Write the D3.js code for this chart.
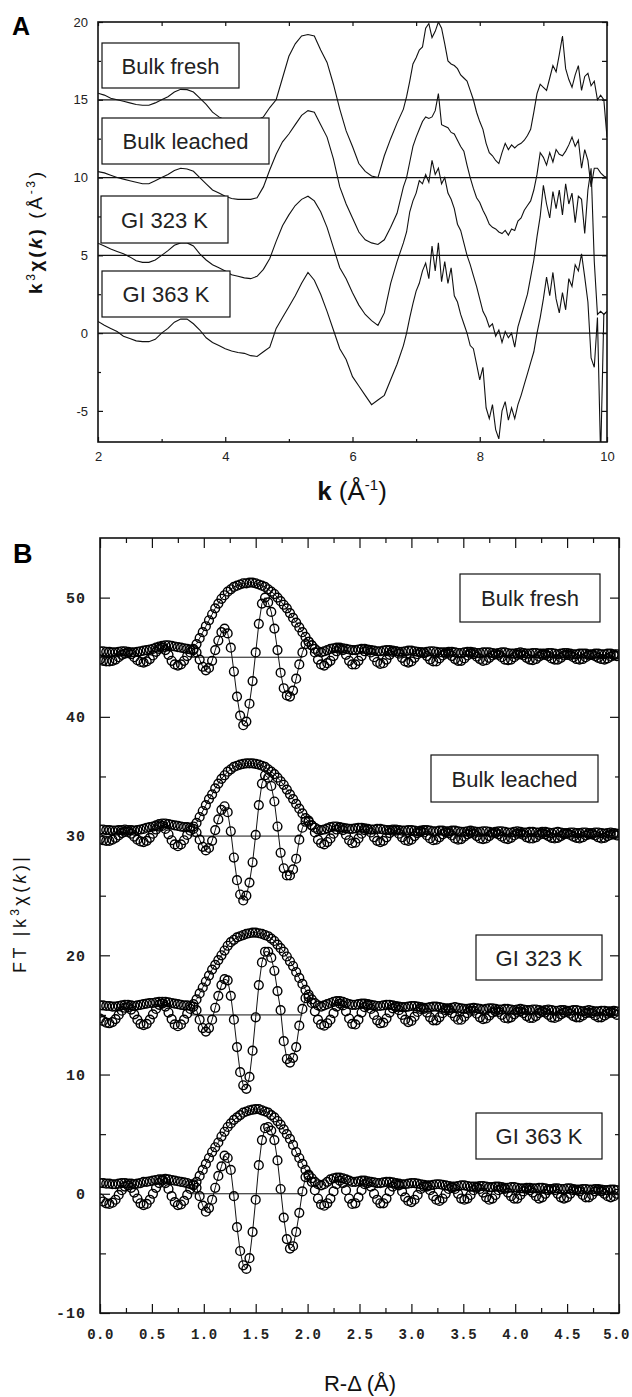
<!DOCTYPE html>
<html>
<head>
<meta charset="utf-8">
<script src="https://cdn.jsdelivr.net/npm/d3@7"></script>
<style>
  html, body { margin: 0; padding: 0; background: #fff; }
  svg { display: block; }
</style>
</head>
<body>
<svg id="chart" width="632" height="1397"></svg>
<script>
// ---------------- panel A: k^3 chi(k) ----------------
const kGrid = [
  2, 2.1, 2.2, 2.3, 2.4, 2.5, 2.6, 2.7, 2.8, 2.9,
  3, 3.1, 3.2, 3.3, 3.4, 3.5, 3.6, 3.7, 3.8, 3.9,
  4, 4.1, 4.2, 4.3, 4.4, 4.5, 4.6, 4.7, 4.8, 4.9,
  5, 5.1, 5.2, 5.3, 5.4, 5.5, 5.6, 5.7, 5.8, 5.9,
  6, 6.1, 6.2, 6.3, 6.4, 6.5, 6.6, 6.7, 6.8,
  6.85, 6.9, 6.95, 7, 7.05, 7.1, 7.15, 7.2, 7.25, 7.3,
  7.35, 7.4, 7.45, 7.5, 7.55, 7.6, 7.65, 7.7, 7.75, 7.8,
  7.85, 7.9, 7.95,
  8, 8.05, 8.1, 8.15, 8.2, 8.25, 8.3, 8.35, 8.4, 8.45,
  8.5, 8.55, 8.6, 8.65, 8.7, 8.75, 8.8, 8.85, 8.9, 8.95,
  9, 9.05, 9.1, 9.15, 9.2, 9.25, 9.3, 9.35, 9.4, 9.45,
  9.5, 9.55, 9.6, 9.65, 9.7, 9.75, 9.8, 9.85, 9.9, 9.95,
  10
];

const namesA = ["Bulk fresh", "Bulk leached", "GI 323 K", "GI 363 K"];
const offsetsA = [15, 10, 5, 0];

const chiBulkFresh = [
  0.42, 0.3, 0.1, 0.0, -0.1, -0.2, -0.3, -0.35, -0.35, -0.2,
  0.0, 0.2, 0.5, 0.67, 0.65, 0.5, 0.1, -0.3, -0.8, -1.1,
  -1.3, -1.4, -1.45, -1.5, -1.45, -1.3, -1.1, -0.5, 0.0, 1.4,
  2.8, 3.6, 4.1, 4.2, 4.1, 3.2, 2.4, 1.0, -0.6, -2.0,
  -3.0, -4.1, -4.6, -4.9, -5.0, -3.6, -2.5, -1.5, -0.6,
  0.2, 1.2, 2.3, 2.7, 3.2, 3.4, 4.6, 4.9, 4.0, 4.4,
  5.0, 4.6, 3.6, 2.5, 2.3, 2.2, 2.0, 1.6, 1.4, 1.2,
  0.6, 0.0, -0.8,
  -1.4, -1.9, -2.8, -3.4, -3.6, -3.9, -4.1, -3.4, -2.8, -3.2,
  -2.9, -3.1, -2.9, -2.8, -2.6, -2.3, -1.9, -0.8, 0.4, 1.0,
  0.8, 0.6, 1.4, 2.2, 1.8, 2.9, 4.1, 2.0, 1.3, 0.8,
  1.6, 2.2, 0.6, 1.5, 1.7, 0.9, 1.2, 0.0, 0.3, 0.0,
  -2.4
];
const chiBulkLeached = [
  0.38, 0.3, 0.15, 0.0, -0.1, -0.2, -0.3, -0.4, -0.4, -0.2,
  0.0, 0.2, 0.45, 0.6, 0.55, 0.4, 0.0, -0.4, -0.8, -1.0,
  -1.2, -1.35, -1.4, -1.4, -1.4, -1.3, -0.6, 0.5, 1.5, 2.3,
  2.8, 3.4, 4.0, 4.3, 4.2, 3.4, 2.6, 1.2, -0.6, -1.7,
  -2.6, -3.5, -4.0, -4.2, -4.3, -4.0, -3.2, -2.3, -0.6,
  0.0, 1.0, 2.0, 2.6, 3.1, 3.6, 3.9, 3.8, 3.9, 4.3,
  5.4, 3.4, 3.3, 3.2, 2.9, 2.8, 2.4, 2.0, 1.7, 0.8,
  0.0, -0.7, -1.3,
  -1.6, -2.1, -2.5, -3.0, -3.2, -3.3, -3.5, -3.6, -3.4, -3.7,
  -3.3, -3.4, -2.8, -2.6, -2.1, -1.8, -1.5, -0.8, 0.2, 1.6,
  1.3, 0.8, 1.6, 1.0, 1.8, 1.5, 1.4, 1.7, 2.1, 2.6,
  2.0, 2.4, 0.6, 1.8, 1.1, -0.6, 0.6, 0.6, 0.3, 0.1,
  0.0
];
const chiGI323 = [
  0.78, 0.6, 0.4, 0.25, 0.1, -0.1, -0.35, -0.45, -0.45, -0.3,
  0.0, 0.3, 0.65, 0.8, 0.8, 0.6, 0.1, -0.3, -0.6, -0.8,
  -1.0, -1.25, -1.35, -1.45, -1.5, -1.35, -0.9, -0.2, 0.9, 1.9,
  2.6, 3.2, 3.6, 3.8, 3.5, 2.8, 1.8, 0.5, -0.8, -1.5,
  -2.4, -3.2, -3.8, -4.2, -4.5, -3.7, -1.8, -0.4, 0.8,
  1.5, 2.8, 3.5, 4.0, 4.8, 4.6, 5.2, 4.7, 6.1, 5.2,
  5.6, 4.6, 5.0, 4.0, 3.6, 3.0, 2.0, 1.6, 0.8, 0.0,
  -0.6, -1.3, -2.0,
  -2.8, -3.6, -4.0, -4.6, -4.4, -5.2, -4.8, -5.6, -4.9, -5.3,
  -5.0, -5.9, -4.6, -3.9, -3.2, -2.5, -1.4, -0.3, 1.2, 2.5,
  4.5, 3.3, 2.4, 4.1, 3.0, 4.2, 2.6, 4.6, 3.3, 4.0,
  2.1, 3.8, 3.6, 1.4, 4.2, 5.6, -0.4, -3.8, -3.6, -3.8,
  -3.6
];
const chiGI363 = [
  0.75, 0.5, 0.3, 0.1, -0.2, -0.35, -0.5, -0.55, -0.55, -0.4,
  0.0, 0.3, 0.7, 0.9, 0.9, 0.6, 0.2, -0.3, -0.6, -0.8,
  -1.0, -1.15, -1.25, -1.3, -1.45, -1.5, -1.2, -0.9, 0.3, 1.0,
  1.7, 2.4, 3.2, 3.9, 3.4, 2.5, 1.4, 0.2, -1.0, -1.7,
  -2.8, -3.4, -4.0, -4.6, -4.3, -4.0, -3.0, -2.0, -0.8,
  0.0, 1.0, 1.9, 2.7, 3.2, 4.0, 4.5, 3.5, 5.6, 4.0,
  5.8, 3.3, 4.6, 3.2, 4.2, 2.4, 2.0, 1.2, 0.6, 0.0,
  -0.8, -1.0, -2.0,
  -3.0, -2.2, -4.8, -5.5, -4.6, -6.2, -6.8, -5.0, -4.4, -5.6,
  -4.8, -5.5, -4.6, -4.0, -3.3, -2.6, -1.9, -1.2, 0.0, 1.0,
  2.2, 3.6, 2.4, 3.9, 2.2, 1.3, 2.6, 1.5, 3.5, 3.0,
  4.4, 4.0, 5.1, 3.6, 2.0, -1.6, -2.2, 1.0, -8.0, 1.2,
  1.4
];
const seriesA = [chiBulkFresh, chiBulkLeached, chiGI323, chiGI363];

const yTicksA = [-5, 0, 5, 10, 15, 20];
const yMinorA = [-2.5, 2.5, 7.5, 12.5, 17.5];
const xTicksA = [2, 4, 6, 8, 10];
const xMinorA = [3, 5, 7, 9];

// ---------------- panel B: FT magnitude / imaginary part ----------------
const rGrid = [
  0, 0.03, 0.06, 0.09, 0.12, 0.15, 0.18, 0.21, 0.24, 0.27,
  0.3, 0.33, 0.36, 0.39, 0.42, 0.45, 0.48, 0.51, 0.54, 0.57,
  0.6, 0.63, 0.66, 0.69, 0.72, 0.75, 0.78, 0.81, 0.84, 0.87,
  0.9, 0.93, 0.96, 0.99, 1.02, 1.05, 1.08, 1.11, 1.14, 1.17,
  1.2, 1.23, 1.26, 1.29, 1.32, 1.35, 1.38, 1.41, 1.44, 1.47,
  1.5, 1.53, 1.56, 1.59, 1.62, 1.65, 1.68, 1.71, 1.74, 1.77,
  1.8, 1.83, 1.86, 1.89, 1.92, 1.95, 1.98, 2.01, 2.04, 2.07,
  2.1, 2.13, 2.16, 2.19, 2.22, 2.25, 2.28, 2.31, 2.34, 2.37,
  2.4, 2.43, 2.46, 2.49, 2.52, 2.55, 2.58, 2.61, 2.64, 2.67,
  2.7, 2.73, 2.76, 2.79, 2.82, 2.85, 2.88, 2.91, 2.94, 2.97,
  3, 3.03, 3.06, 3.09, 3.12, 3.15, 3.18, 3.21, 3.24, 3.27,
  3.3, 3.33, 3.36, 3.39, 3.42, 3.45, 3.48, 3.51, 3.54, 3.57,
  3.6, 3.63, 3.66, 3.69, 3.72, 3.75, 3.78, 3.81, 3.84, 3.87,
  3.9, 3.93, 3.96, 3.99, 4.02, 4.05, 4.08, 4.11, 4.14, 4.17,
  4.2, 4.23, 4.26, 4.29, 4.32, 4.35, 4.38, 4.41, 4.44, 4.47,
  4.5, 4.53, 4.56, 4.59, 4.62, 4.65, 4.68, 4.71, 4.74, 4.77,
  4.8, 4.83, 4.86, 4.89, 4.92, 4.95, 4.98
];

const namesB = ["Bulk fresh", "Bulk leached", "GI 323 K", "GI 363 K"];
const offsetsB = [45, 30, 15, 0];

const magBulkFresh = [
  0.5, 0.5, 0.45, 0.45, 0.4, 0.4, 0.45, 0.5, 0.5, 0.45,
  0.4, 0.4, 0.45, 0.5, 0.55, 0.6, 0.65, 0.7, 0.8, 0.9,
  0.95, 1.0, 1.0, 0.95, 0.9, 0.85, 0.8, 0.75, 0.7, 0.65,
  0.7, 1.1, 1.6, 2.1, 2.6, 3.1, 3.6, 4.1, 4.5, 4.9,
  5.2, 5.5, 5.7, 5.9, 6.0, 6.1, 6.2, 6.2, 6.25, 6.25,
  6.2, 6.1, 6.0, 5.9, 5.7, 5.5, 5.3, 5.0, 4.7, 4.4,
  4.1, 3.7, 3.3, 2.9, 2.5, 2.1, 1.7, 1.3, 1.0, 0.7,
  0.5, 0.4, 0.5, 0.6, 0.7, 0.75, 0.8, 0.8, 0.75, 0.7,
  0.65, 0.6, 0.6, 0.65, 0.7, 0.7, 0.65, 0.6, 0.55, 0.5,
  0.5, 0.55, 0.6, 0.6, 0.55, 0.5, 0.45, 0.45, 0.5, 0.55,
  0.55, 0.5, 0.45, 0.4, 0.4, 0.45, 0.5, 0.5, 0.45, 0.4,
  0.4, 0.4, 0.45, 0.45, 0.4, 0.35, 0.35, 0.4, 0.45, 0.45,
  0.4, 0.35, 0.35, 0.4, 0.4, 0.4, 0.35, 0.3, 0.35, 0.4,
  0.4, 0.35, 0.3, 0.3, 0.35, 0.4, 0.35, 0.3, 0.3, 0.35,
  0.35, 0.3, 0.3, 0.3, 0.35, 0.35, 0.3, 0.25, 0.3, 0.35,
  0.35, 0.3, 0.25, 0.25, 0.3, 0.3, 0.3, 0.25, 0.25, 0.3,
  0.3, 0.25, 0.25, 0.3, 0.3, 0.25, 0.25
];
const imBulkFresh = [
  -0.2, -0.3, -0.35, -0.35, -0.3, -0.2, 0.0, 0.2, 0.3, 0.35,
  0.25, 0.0, -0.25, -0.4, -0.45, -0.35, -0.15, 0.15, 0.45, 0.7,
  0.8, 0.6, 0.2, -0.3, -0.6, -0.7, -0.6, -0.3, 0.1, 0.4,
  0.6, 0.4, -0.2, -0.8, -1.1, -0.9, -0.3, 0.6, 1.4, 2.1,
  2.4, 2.0, 0.8, -1.2, -3.3, -4.9, -5.7, -5.4, -3.9, -2.0,
  0.4, 2.8, 4.5, 5.0, 4.6, 3.8, 2.4, 0.6, -1.3, -2.6,
  -3.2, -3.3, -2.8, -1.8, -0.6, 0.4, 1.1, 1.3, 1.0, 0.4,
  -0.2, -0.6, -0.7, -0.5, -0.3, 0.1, 0.5, 0.7, 0.6, 0.2,
  -0.3, -0.6, -0.6, -0.3, 0.1, 0.5, 0.6, 0.4, 0.0, -0.4,
  -0.55, -0.5, -0.2, 0.2, 0.45, 0.5, 0.3, -0.05, -0.35, -0.45,
  -0.35, -0.05, 0.25, 0.4, 0.35, 0.1, -0.2, -0.35, -0.35, -0.1,
  0.15, 0.3, 0.3, 0.1, -0.15, -0.3, -0.3, -0.1, 0.15, 0.3,
  0.25, 0.05, -0.15, -0.3, -0.25, -0.05, 0.15, 0.25, 0.2, 0.0,
  -0.2, -0.25, -0.2, 0.0, 0.2, 0.25, 0.15, -0.05, -0.2, -0.25,
  -0.15, 0.05, 0.2, 0.2, 0.1, -0.1, -0.2, -0.2, -0.05, 0.15,
  0.2, 0.15, 0.0, -0.15, -0.2, -0.15, 0.0, 0.15, 0.2, 0.1,
  -0.05, -0.15, -0.2, -0.1, 0.05, 0.15, 0.1
];
const magBulkLeached = [
  0.55, 0.55, 0.5, 0.5, 0.45, 0.45, 0.5, 0.5, 0.55, 0.5,
  0.5, 0.45, 0.5, 0.55, 0.6, 0.7, 0.75, 0.8, 0.9, 1.0,
  1.05, 1.05, 1.0, 0.95, 0.9, 0.85, 0.8, 0.75, 0.75, 0.7,
  0.8, 1.1, 1.6, 2.1, 2.6, 3.1, 3.5, 4.0, 4.4, 4.8,
  5.1, 5.4, 5.6, 5.8, 5.9, 6.0, 6.05, 6.1, 6.1, 6.1,
  6.05, 6.0, 5.9, 5.8, 5.6, 5.4, 5.2, 4.9, 4.6, 4.3,
  3.9, 3.5, 3.1, 2.7, 2.3, 1.9, 1.5, 1.2, 0.9, 0.7,
  0.55, 0.5, 0.55, 0.65, 0.75, 0.8, 0.8, 0.75, 0.7, 0.65,
  0.6, 0.6, 0.65, 0.7, 0.7, 0.65, 0.6, 0.55, 0.55, 0.6,
  0.6, 0.55, 0.5, 0.5, 0.55, 0.55, 0.5, 0.45, 0.45, 0.5,
  0.5, 0.45, 0.4, 0.45, 0.5, 0.5, 0.45, 0.4, 0.4, 0.45,
  0.45, 0.4, 0.4, 0.45, 0.45, 0.4, 0.35, 0.35, 0.4, 0.45,
  0.4, 0.35, 0.35, 0.4, 0.4, 0.35, 0.3, 0.35, 0.4, 0.4,
  0.35, 0.3, 0.3, 0.35, 0.4, 0.35, 0.3, 0.3, 0.35, 0.35,
  0.3, 0.3, 0.35, 0.35, 0.3, 0.25, 0.3, 0.35, 0.3, 0.25,
  0.25, 0.3, 0.3, 0.25, 0.25, 0.3, 0.3, 0.25, 0.25, 0.3,
  0.3, 0.25, 0.2, 0.25, 0.3, 0.25, 0.2
];
const imBulkLeached = [
  -0.25, -0.35, -0.4, -0.4, -0.3, -0.15, 0.05, 0.25, 0.35, 0.35,
  0.2, -0.05, -0.3, -0.45, -0.5, -0.4, -0.15, 0.2, 0.55, 0.8,
  0.85, 0.6, 0.15, -0.35, -0.7, -0.85, -0.7, -0.35, 0.1, 0.45,
  0.6, 0.3, -0.3, -0.9, -1.2, -1.0, -0.4, 0.5, 1.4, 2.2,
  2.5, 2.0, 0.4, -1.8, -3.7, -4.9, -5.4, -5.0, -3.9, -2.2,
  0.1, 2.6, 4.4, 5.1, 4.9, 4.2, 2.9, 0.8, -1.4, -2.7,
  -3.3, -3.3, -2.8, -1.9, -0.3, 0.7, 1.2, 1.3, 0.9, 0.3,
  -0.3, -0.6, -0.7, -0.5, -0.2, 0.2, 0.55, 0.7, 0.5, 0.1,
  -0.35, -0.6, -0.55, -0.2, 0.2, 0.5, 0.55, 0.3, -0.1, -0.4,
  -0.5, -0.4, -0.1, 0.25, 0.45, 0.45, 0.2, -0.1, -0.35, -0.4,
  -0.3, 0.0, 0.25, 0.35, 0.3, 0.05, -0.2, -0.35, -0.3, -0.1,
  0.15, 0.3, 0.25, 0.05, -0.2, -0.3, -0.25, -0.05, 0.15, 0.25,
  0.2, 0.0, -0.2, -0.25, -0.2, 0.0, 0.2, 0.25, 0.15, -0.05,
  -0.2, -0.25, -0.15, 0.05, 0.2, 0.2, 0.1, -0.1, -0.2, -0.2,
  -0.1, 0.1, 0.2, 0.15, 0.0, -0.15, -0.2, -0.15, 0.0, 0.15,
  0.2, 0.1, -0.05, -0.15, -0.2, -0.1, 0.05, 0.15, 0.15, 0.05,
  -0.1, -0.2, -0.15, 0.0, 0.1, 0.15, 0.05
];
const magGI323 = [
  0.8, 0.8, 0.75, 0.75, 0.7, 0.7, 0.75, 0.8, 0.85, 0.85,
  0.8, 0.75, 0.8, 0.85, 0.9, 0.95, 1.0, 1.0, 1.05, 1.1,
  1.1, 1.1, 1.05, 1.0, 0.95, 0.9, 0.85, 0.8, 0.8, 0.75,
  0.9, 1.3, 1.8, 2.3, 2.8, 3.3, 3.8, 4.2, 4.6, 5.0,
  5.4, 5.8, 6.1, 6.3, 6.5, 6.6, 6.7, 6.8, 6.85, 6.9,
  6.9, 6.85, 6.8, 6.7, 6.6, 6.4, 6.2, 5.9, 5.6, 5.3,
  4.9, 4.5, 4.1, 3.6, 3.1, 2.6, 2.1, 1.7, 1.3, 1.0,
  0.8, 0.7, 0.8, 0.9, 1.0, 1.1, 1.15, 1.15, 1.1, 1.0,
  0.9, 0.85, 0.85, 0.9, 0.95, 0.95, 0.9, 0.85, 0.8, 0.75,
  0.75, 0.8, 0.85, 0.85, 0.8, 0.75, 0.7, 0.65, 0.65, 0.7,
  0.75, 0.75, 0.7, 0.65, 0.6, 0.6, 0.65, 0.7, 0.7, 0.65,
  0.6, 0.55, 0.55, 0.6, 0.65, 0.6, 0.55, 0.5, 0.5, 0.55,
  0.6, 0.55, 0.5, 0.45, 0.5, 0.55, 0.55, 0.5, 0.45, 0.45,
  0.5, 0.5, 0.45, 0.4, 0.45, 0.5, 0.45, 0.4, 0.4, 0.45,
  0.45, 0.4, 0.35, 0.4, 0.45, 0.4, 0.35, 0.35, 0.4, 0.4,
  0.35, 0.35, 0.4, 0.4, 0.35, 0.3, 0.35, 0.4, 0.35, 0.3,
  0.3, 0.35, 0.35, 0.3, 0.3, 0.35, 0.3
];
const imGI323 = [
  -0.3, -0.5, -0.65, -0.7, -0.6, -0.35, 0.0, 0.35, 0.6, 0.65,
  0.45, 0.05, -0.4, -0.75, -0.85, -0.75, -0.4, 0.05, 0.5, 0.85,
  0.95, 0.7, 0.2, -0.35, -0.8, -0.95, -0.8, -0.4, 0.1, 0.5,
  0.7, 0.4, -0.4, -1.1, -1.4, -1.1, -0.4, 0.6, 1.6, 2.5,
  3.0, 2.9, 1.6, -0.4, -2.7, -4.8, -5.9, -6.2, -5.2, -3.0,
  -0.2, 2.5, 4.4, 5.3, 5.3, 4.8, 3.7, 2.0, 0.4, -2.2,
  -3.7, -4.0, -3.6, -2.7, -0.9, 0.5, 1.4, 1.5, 1.0, 0.3,
  -0.4, -0.8, -0.9, -0.7, -0.4, 0.15, 0.7, 0.95, 0.8, 0.3,
  -0.3, -0.75, -0.8, -0.4, 0.2, 0.65, 0.8, 0.5, 0.0, -0.45,
  -0.7, -0.65, -0.3, 0.2, 0.55, 0.65, 0.4, 0.0, -0.4, -0.6,
  -0.5, -0.15, 0.25, 0.5, 0.5, 0.2, -0.2, -0.45, -0.45, -0.2,
  0.15, 0.4, 0.4, 0.15, -0.15, -0.4, -0.4, -0.15, 0.15, 0.35,
  0.35, 0.1, -0.2, -0.35, -0.3, -0.05, 0.2, 0.3, 0.25, 0.0,
  -0.25, -0.3, -0.2, 0.05, 0.25, 0.3, 0.15, -0.1, -0.25, -0.25,
  -0.1, 0.15, 0.25, 0.2, 0.0, -0.2, -0.25, -0.15, 0.05, 0.2,
  0.25, 0.1, -0.1, -0.2, -0.2, -0.05, 0.15, 0.2, 0.15, -0.05,
  -0.2, -0.2, -0.05, 0.1, 0.2, 0.15, 0.0
];
const magGI363 = [
  0.9, 0.9, 0.85, 0.85, 0.8, 0.8, 0.85, 0.9, 0.9, 0.85,
  0.85, 0.8, 0.85, 0.9, 1.0, 1.0, 1.05, 1.1, 1.15, 1.2,
  1.2, 1.25, 1.2, 1.15, 1.1, 1.05, 1.0, 0.95, 0.9, 0.8,
  0.8, 1.0, 1.5, 2.0, 2.5, 3.0, 3.5, 3.9, 4.3, 4.8,
  5.2, 5.6, 5.9, 6.2, 6.4, 6.6, 6.8, 6.9, 7.0, 7.05,
  7.1, 7.1, 7.0, 6.9, 6.8, 6.6, 6.4, 6.1, 5.8, 5.4,
  5.0, 4.6, 4.1, 3.5, 3.0, 2.5, 2.0, 1.6, 1.3, 1.0,
  0.8, 0.7, 0.8, 1.0, 1.2, 1.3, 1.35, 1.35, 1.3, 1.2,
  1.1, 1.0, 1.0, 1.05, 1.1, 1.1, 1.05, 1.0, 0.95, 0.9,
  0.9, 0.95, 1.0, 1.0, 0.95, 0.9, 0.85, 0.8, 0.8, 0.85,
  0.9, 0.9, 0.85, 0.8, 0.75, 0.7, 0.7, 0.75, 0.8, 0.8,
  0.75, 0.7, 0.65, 0.6, 0.6, 0.65, 0.7, 0.7, 0.65, 0.6,
  0.6, 0.6, 0.65, 0.65, 0.6, 0.55, 0.55, 0.6, 0.6, 0.55,
  0.5, 0.5, 0.55, 0.55, 0.5, 0.45, 0.45, 0.5, 0.5, 0.45,
  0.45, 0.5, 0.5, 0.45, 0.4, 0.4, 0.45, 0.45, 0.4, 0.4,
  0.45, 0.45, 0.4, 0.35, 0.35, 0.4, 0.4, 0.35, 0.35, 0.4,
  0.4, 0.35, 0.3, 0.3, 0.35, 0.35, 0.3
];
const imGI363 = [
  -0.4, -0.65, -0.8, -0.85, -0.75, -0.5, -0.1, 0.3, 0.6, 0.7,
  0.5, 0.1, -0.4, -0.8, -0.95, -0.85, -0.5, 0.0, 0.5, 0.9,
  1.1, 0.9, 0.4, -0.2, -0.7, -0.95, -0.9, -0.6, -0.1, 0.4,
  0.7, 0.5, -0.2, -1.0, -1.5, -1.2, -0.5, 0.5, 1.5, 2.3,
  3.2, 3.0, 2.0, -0.2, -2.8, -4.8, -6.0, -6.3, -5.4, -3.2,
  -0.5, 2.4, 4.5, 5.5, 5.6, 5.3, 4.5, 2.8, 0.4, -2.0,
  -3.8, -4.6, -4.4, -3.2, -1.6, 0.2, 1.4, 1.5, 1.0, 0.3,
  -0.4, -0.9, -1.0, -0.8, -0.4, 0.2, 0.8, 1.1, 0.9, 0.3,
  -0.4, -0.85, -0.8, -0.3, 0.3, 0.8, 0.9, 0.6, 0.0, -0.5,
  -0.8, -0.8, -0.4, 0.2, 0.6, 0.8, 0.7, 0.2, -0.3, -0.6,
  -0.7, -0.5, -0.1, 0.4, 0.6, 0.6, 0.3, -0.2, -0.5, -0.6,
  -0.4, 0.0, 0.4, 0.5, 0.4, 0.0, -0.4, -0.5, -0.4, -0.1,
  0.3, 0.5, 0.4, 0.1, -0.3, -0.5, -0.4, -0.1, 0.3, 0.4,
  0.4, 0.1, -0.2, -0.4, -0.4, -0.1, 0.2, 0.4, 0.3, 0.1,
  -0.2, -0.4, -0.3, 0.0, 0.3, 0.4, 0.3, 0.0, -0.3, -0.4,
  -0.3, 0.0, 0.3, 0.3, 0.2, -0.1, -0.3, -0.3, -0.1, 0.2,
  0.3, 0.2, 0.0, -0.2, -0.3, -0.2, 0.0
];
const magB = [magBulkFresh, magBulkLeached, magGI323, magGI363];
const imB = [imBulkFresh, imBulkLeached, imGI323, imGI363];
const fitRange = [0.93, 2.04];
const zeroLineRange = [0.87, 1.95];

const yTicksB = [-10, 0, 10, 20, 30, 40, 50];
const yMinorB = [-5, 5, 15, 25, 35, 45];
const xTicksB = [0, 0.5, 1, 1.5, 2, 2.5, 3, 3.5, 4, 4.5, 5];
const xMinorB = [0.25, 0.75, 1.25, 1.75, 2.25, 2.75, 3.25, 3.75, 4.25, 4.75];

// ---------------- drawing ----------------
const svg = d3.select("#chart");
const sans = "'Liberation Sans', Arial, sans-serif";
const mono = "'Liberation Mono', 'DejaVu Sans Mono', monospace";

function axisStyle(g, font, size, weight, spacing) {
  g.select(".domain").remove();
  g.selectAll("line").attr("stroke", "#111").attr("stroke-width", 1.2);
  g.selectAll("text")
    .attr("fill", "#222")
    .style("font-family", font)
    .style("font-size", size + "px")
    .style("font-weight", weight)
    .style("letter-spacing", spacing + "px");
}

function drawBox(parent, x, y, w, h, label) {
  parent.append("rect")
    .attr("x", x).attr("y", y).attr("width", w).attr("height", h)
    .attr("fill", "#fff").attr("stroke", "#111").attr("stroke-width", 1.2);
  parent.append("text")
    .attr("x", x + w / 2).attr("y", y + h / 2 + 8)
    .attr("text-anchor", "middle")
    .style("font-family", sans).style("font-size", "22px")
    .attr("fill", "#222")
    .text(label);
}

// ===== Panel A =====
const xA = d3.scaleLinear().domain([2, 10]).range([98, 607]);
const yA = d3.scaleLinear().domain([-7, 20]).range([442, 22]);
const gA = svg.append("g");

svg.append("clipPath").attr("id", "clipA").append("rect")
  .attr("x", xA(2)).attr("y", yA(20))
  .attr("width", xA(10) - xA(2)).attr("height", yA(-7) - yA(20));

const plotA = gA.append("g").attr("clip-path", "url(#clipA)");

seriesA.forEach((vals, s) => {
  const off = offsetsA[s];
  plotA.append("line")
    .attr("x1", xA(2)).attr("x2", xA(10))
    .attr("y1", yA(off)).attr("y2", yA(off))
    .attr("stroke", "#111").attr("stroke-width", 1.2);
  plotA.append("path")
    .datum(vals)
    .attr("fill", "none").attr("stroke", "#111").attr("stroke-width", 1.1)
    .attr("d", d3.line().x((d, i) => xA(kGrid[i])).y(d => yA(d + off)));
});

const boxesA = [[102, 43, 137, 45], [102, 118, 167, 46], [101, 196, 127, 47], [102, 271, 128, 46]];
namesA.forEach((n, i) => drawBox(gA, ...boxesA[i], n));

const fmt = d => String(d);
gA.append("g").attr("transform", `translate(${xA(2)},0)`)
  .call(d3.axisLeft(yA).tickValues(yTicksA).tickSize(-5).tickPadding(10).tickFormat(fmt))
  .call(g => axisStyle(g, sans, 13, "normal", 0));
gA.append("g").attr("transform", `translate(${xA(2)},0)`)
  .call(d3.axisLeft(yA).tickValues(yMinorA).tickSize(-3).tickFormat(""))
  .call(g => axisStyle(g, sans, 13, "normal", 0));
gA.append("g").attr("transform", `translate(${xA(10)},0)`)
  .call(d3.axisRight(yA).tickValues(yTicksA.concat(yMinorA)).tickSize(-5).tickFormat(""))
  .call(g => axisStyle(g, sans, 13, "normal", 0));
gA.append("g").attr("transform", `translate(0,${yA(-7)})`)
  .call(d3.axisBottom(xA).tickValues(xTicksA).tickSize(-5).tickPadding(10).tickFormat(fmt))
  .call(g => axisStyle(g, sans, 13, "normal", 0));
gA.append("g").attr("transform", `translate(0,${yA(-7)})`)
  .call(d3.axisBottom(xA).tickValues(xMinorA).tickSize(-3).tickFormat(""))
  .call(g => axisStyle(g, sans, 13, "normal", 0));
gA.append("g").attr("transform", `translate(0,${yA(20)})`)
  .call(d3.axisTop(xA).tickValues(xTicksA.concat(xMinorA)).tickSize(-4).tickFormat(""))
  .call(g => axisStyle(g, sans, 13, "normal", 0));

gA.append("rect")
  .attr("x", xA(2)).attr("y", yA(20))
  .attr("width", xA(10) - xA(2)).attr("height", yA(-7) - yA(20))
  .attr("fill", "none").attr("stroke", "#111").attr("stroke-width", 1.6);

gA.append("text").attr("x", 12).attr("y", 35)
  .style("font-family", sans).style("font-size", "25px").style("font-weight", "bold")
  .text("A");

// axis titles A
const yTitleA = gA.append("text")
  .attr("transform", "translate(42,233) rotate(-90)")
  .attr("text-anchor", "middle")
  .attr("textLength", 122)
  .style("font-family", sans).style("font-size", "19px").attr("fill", "#111");
yTitleA.append("tspan").style("font-weight", "bold").text("k");
yTitleA.append("tspan").attr("dy", -7).style("font-size", "12px").text("3");
yTitleA.append("tspan").attr("dy", 7).style("font-weight", "bold").text("χ(");
yTitleA.append("tspan").style("font-style", "italic").style("font-weight", "bold").text("k");
yTitleA.append("tspan").style("font-weight", "bold").text(")");
yTitleA.append("tspan").text(" (Å");
yTitleA.append("tspan").attr("dy", -7).style("font-size", "12px").text("-3");
yTitleA.append("tspan").attr("dy", 7).text(")");

const xTitleA = gA.append("text")
  .attr("x", 352).attr("y", 500)
  .attr("text-anchor", "middle")
  .style("font-family", sans).style("font-size", "26px").attr("fill", "#111");
xTitleA.append("tspan").style("font-weight", "bold").text("k");
xTitleA.append("tspan").text(" (Å");
xTitleA.append("tspan").attr("dy", -10).style("font-size", "15px").text("-1");
xTitleA.append("tspan").attr("dy", 10).text(")");

// ===== Panel B =====
const xB = d3.scaleLinear().domain([0, 5]).range([100, 619]);
const yB = d3.scaleLinear().domain([-10, 55]).range([1313, 538]);
const gB = svg.append("g");

svg.append("clipPath").attr("id", "clipB").append("rect")
  .attr("x", xB(0)).attr("y", yB(55))
  .attr("width", xB(5) - xB(0)).attr("height", yB(-10) - yB(55));

const plotB = gB.append("g").attr("clip-path", "url(#clipB)");

offsetsB.forEach((off, s) => {
  const mag = magB[s], im = imB[s];
  plotB.append("line")
    .attr("x1", xB(zeroLineRange[0])).attr("x2", xB(zeroLineRange[1]))
    .attr("y1", yB(off)).attr("y2", yB(off))
    .attr("stroke", "#111").attr("stroke-width", 1);

  const idx = rGrid.map((r, i) => i).filter(i => rGrid[i] >= fitRange[0] && rGrid[i] <= fitRange[1]);
  [mag, im].forEach(vals => {
    plotB.append("path")
      .datum(idx)
      .attr("fill", "none").attr("stroke", "#111").attr("stroke-width", 1)
      .attr("d", d3.line().x(i => xB(rGrid[i])).y(i => yB(vals[i] + off)));
  });

  [mag, im].forEach(vals => {
    plotB.append("g").selectAll("circle")
      .data(vals)
      .join("circle")
      .attr("cx", (d, i) => xB(rGrid[i]))
      .attr("cy", d => yB(d + off))
      .attr("r", 4.4)
      .attr("fill", "none").attr("stroke", "#000").attr("stroke-width", 1.4);
  });
});

const boxesB = [[460, 574, 140, 48], [431, 755, 167, 47], [476, 935, 126, 45], [476, 1113, 126, 46]];
namesB.forEach((n, i) => drawBox(gB, ...boxesB[i], n));

gB.append("g").attr("transform", `translate(${xB(0)},0)`)
  .call(d3.axisLeft(yB).tickValues(yTicksB).tickSize(-10).tickPadding(14).tickFormat(fmt))
  .call(g => axisStyle(g, mono, 15, "bold", 1));
gB.append("g").attr("transform", `translate(${xB(0)},0)`)
  .call(d3.axisLeft(yB).tickValues(yMinorB).tickSize(-6).tickFormat(""))
  .call(g => axisStyle(g, mono, 15, "bold", 1));
gB.append("g").attr("transform", `translate(${xB(5)},0)`)
  .call(d3.axisRight(yB).tickValues(yTicksB).tickSize(-9).tickFormat(""))
  .call(g => axisStyle(g, mono, 15, "bold", 1));
gB.append("g").attr("transform", `translate(${xB(5)},0)`)
  .call(d3.axisRight(yB).tickValues(yMinorB).tickSize(-4).tickFormat(""))
  .call(g => axisStyle(g, mono, 15, "bold", 1));
gB.append("g").attr("transform", `translate(0,${yB(-10)})`)
  .call(d3.axisBottom(xB).tickValues(xTicksB).tickSize(-9).tickPadding(16).tickFormat(d3.format(".1f")))
  .call(g => axisStyle(g, mono, 14, "bold", 0.5))
  .call(g => g.selectAll(".tick text").filter(d => d === 5).attr("dx", -3));
gB.append("g").attr("transform", `translate(0,${yB(-10)})`)
  .call(d3.axisBottom(xB).tickValues(xMinorB).tickSize(-5).tickFormat(""))
  .call(g => axisStyle(g, mono, 15, "bold", 1));
gB.append("g").attr("transform", `translate(0,${yB(55)})`)
  .call(d3.axisTop(xB).tickValues(xTicksB).tickSize(-10).tickFormat(""))
  .call(g => axisStyle(g, mono, 15, "bold", 1));
gB.append("g").attr("transform", `translate(0,${yB(55)})`)
  .call(d3.axisTop(xB).tickValues(xMinorB).tickSize(-5).tickFormat(""))
  .call(g => axisStyle(g, mono, 15, "bold", 1));

gB.append("rect")
  .attr("x", xB(0)).attr("y", yB(55))
  .attr("width", xB(5) - xB(0)).attr("height", yB(-10) - yB(55))
  .attr("fill", "none").attr("stroke", "#111").attr("stroke-width", 1.6);

gB.append("text").attr("x", 13).attr("y", 563)
  .style("font-family", sans).style("font-size", "27px").style("font-weight", "bold")
  .text("B");

const yTitleB = gB.append("text")
  .attr("transform", "translate(26,915) rotate(-90)")
  .attr("text-anchor", "middle")
  .attr("textLength", 116)
  .style("font-family", sans).style("font-size", "18px").attr("fill", "#111");
yTitleB.append("tspan").text("FT |k");
yTitleB.append("tspan").attr("dy", -7).style("font-size", "12px").text("3");
yTitleB.append("tspan").attr("dy", 7).text("χ(");
yTitleB.append("tspan").style("font-style", "italic").text("k");
yTitleB.append("tspan").text(")|");

gB.append("text")
  .attr("x", 360).attr("y", 1391)
  .attr("text-anchor", "middle")
  .style("font-family", sans).style("font-size", "22px").attr("fill", "#111")
  .text("R-Δ (Å)");
</script>
</body>
</html>
